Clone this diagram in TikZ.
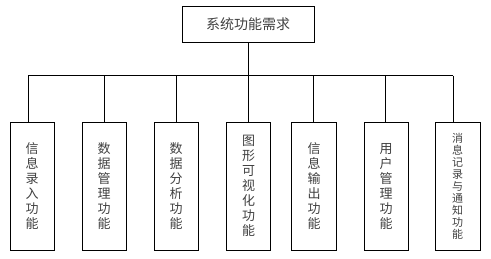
\documentclass[tikz,border=0pt]{standalone}
\usepackage{fontspec}
\newfontfamily\cjk{Noto Sans CJK SC}
\begin{document}
\begin{tikzpicture}[x=1pt,y=1pt,
  box/.style={draw, line width=0.8pt, inner sep=0pt, minimum width=44pt, minimum height=128.5pt, align=center, text=black!75, font=\cjk\fontsize{13}{15}\selectfont},
  smallbox/.style={box, font=\cjk\fontsize{11}{12}\selectfont},
  topbox/.style={draw, line width=0.8pt, inner sep=0pt, minimum width=132pt, minimum height=36.5pt, text=black!75, font=\cjk\fontsize{14}{16}\selectfont},
  conn/.style={line width=0.7pt}]
\useasboundingbox (0,0) rectangle (491,259);
\node[topbox] (top) at (248,234.7) {系统功能需求};
\node[box] (b1) at (32.2,72.7) {信\\息\\录\\入\\功\\能};
\node[box] (b2) at (104.2,72.7) {数\\据\\管\\理\\功\\能};
\node[box] (b3) at (176.2,72.7) {数\\据\\分\\析\\功\\能};
\node[box] (b4) at (248.7,72.7) {图\\形\\可\\视\\化\\功\\能};
\node[box, minimum width=45pt] (b5) at (314.2,72.7) {信\\息\\输\\出\\功\\能};
\node[box] (b6) at (386,72.7) {用\\户\\管\\理\\功\\能};
\node[smallbox, minimum width=45pt] (b7) at (457.7,72.7) {消\\息\\记\\录\\与\\通\\知\\功\\能};
\coordinate (hl) at (28.3,183.3);
\coordinate (hr) at (453.3,183.3);
\coordinate (hm) at (248,183.3);
\draw[conn] (hl) -- (hr);
\draw[conn] (top.south) -- (hm);
\draw[conn] (hl) -- (hl |- b1.north);
\draw[conn] (104.7,183.3) -- (104.7,0 |- b2.north);
\draw[conn] (176,183.3) -- (176,0 |- b3.north);
\draw[conn] (hm) -- (hm |- b4.north);
\draw[conn] (313,183.3) -- (313,0 |- b5.north);
\draw[conn] (385,183.3) -- (385,0 |- b6.north);
\draw[conn] (hr) -- (hr |- b7.north);
\end{tikzpicture}
\end{document}
